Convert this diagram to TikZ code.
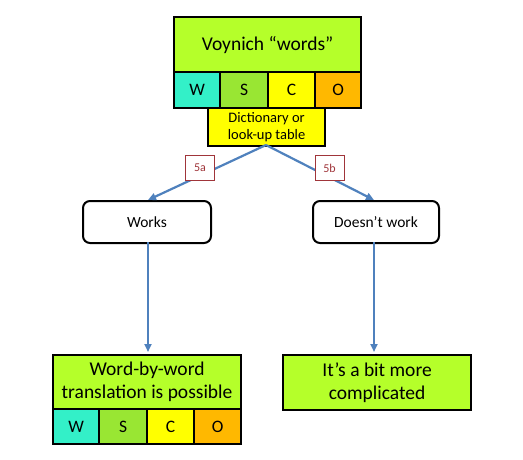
\documentclass[tikz,border=0pt]{standalone}
\usepackage{fontspec}
\setmainfont{Carlito}
\usetikzlibrary{arrows.meta}
\definecolor{lime}{HTML}{B5FF2A}
\definecolor{cw}{HTML}{33F0C8}
\definecolor{cs}{HTML}{99E633}
\definecolor{cc}{HTML}{FFFF00}
\definecolor{co}{HTML}{FFB800}
\definecolor{arr}{HTML}{4F81BD}
\definecolor{lbl}{HTML}{A0353A}
\tikzset{
  boxstyle/.style={draw=black, line width=2.2pt, inner sep=0pt, anchor=north west},
  cellstyle/.style={boxstyle, font=\fontsize{17.5}{20}\selectfont},
  roundbox/.style={draw=black, line width=2pt, rounded corners=7pt, fill=white, inner sep=0pt, anchor=north west, font=\fontsize{15.5}{17}\selectfont},
  conn/.style={draw=arr, line width=2.2pt, -{Triangle[length=8pt,width=7pt]}},
  lblbox/.style={draw=lbl, line width=1pt, fill=white, text=lbl, inner sep=0pt, minimum width=29pt, minimum height=25pt, font=\fontsize{12}{13}\selectfont}
}
\begin{document}
\begin{tikzpicture}[x=1pt,y=-1pt]
\useasboundingbox (0,0) rectangle (523,459);
% top box
\node[boxstyle, fill=lime, minimum width=187pt, minimum height=55pt, font=\fontsize{19.5}{22}\selectfont] (top) at (173,16) {Voynich “words”};
\node[cellstyle, fill=cw, minimum width=46pt, minimum height=36pt] (tw) at (173,71) {W};
\node[cellstyle, fill=cs, minimum width=48pt, minimum height=36pt] (ts) at (219,71) {S};
\node[cellstyle, fill=cc, minimum width=47pt, minimum height=36pt] (tc) at (267,71) {C};
\node[cellstyle, fill=co, minimum width=46pt, minimum height=36pt] (to) at (314,71) {O};
% dictionary
\node[boxstyle, fill=cc, minimum width=117pt, minimum height=38pt, align=center, font=\fontsize{14.5}{17.5}\selectfont] (dict) at (207,107) {Dictionary or\\look-up table};
% middle
\node[roundbox, minimum width=128pt, minimum height=42pt] (works) at (82,200) {Works};
\node[roundbox, minimum width=126pt, minimum height=42pt] (dw) at (312,200) {Doesn’t work};
\coordinate (apex) at (266,145);
\coordinate (wtop) at (148,200);
\coordinate (dtop) at (374,200);
\draw[conn] (apex) -- (wtop);
\draw[conn] (apex) -- (dtop);
\node[lblbox] (la) at (200,168) {5a};
\node[lblbox] (lb) at (329.5,168) {5b};
% bottom left
\node[boxstyle, fill=lime, minimum width=188pt, minimum height=54pt, align=center, font=\fontsize{19.5}{23}\selectfont] (bl) at (52,354) {Word-by-word\\translation is possible};
\node[cellstyle, fill=cw, minimum width=46pt, minimum height=35pt] (bw) at (52,408) {W};
\node[cellstyle, fill=cs, minimum width=48pt, minimum height=35pt] (bs) at (98,408) {S};
\node[cellstyle, fill=cc, minimum width=47pt, minimum height=35pt] (bc) at (146,408) {C};
\node[cellstyle, fill=co, minimum width=47pt, minimum height=35pt] (bo) at (193,408) {O};
% bottom right
\node[boxstyle, fill=lime, minimum width=188pt, minimum height=55pt, align=center, font=\fontsize{19.5}{23}\selectfont] (br) at (282,354) {It’s a bit more\\complicated};
\coordinate (wbot) at (148,242);
\coordinate (dbot) at (374,242);
\draw[conn] (wbot) -- (148,352);
\draw[conn] (dbot) -- (374,352);
\end{tikzpicture}
\end{document}
